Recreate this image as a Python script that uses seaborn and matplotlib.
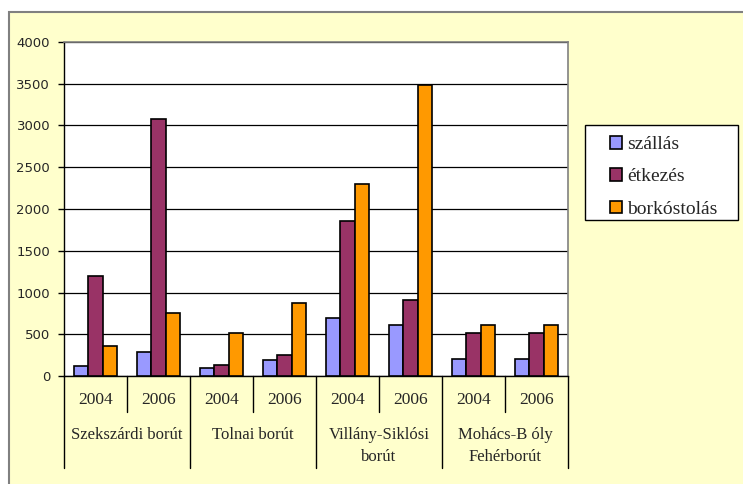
import numpy as np
import pandas as pd
import matplotlib
matplotlib.use("Agg")
import matplotlib.pyplot as plt
from matplotlib.patches import Rectangle
import seaborn as sns

# data
routes = ["Szekszárdi borút", "Tolnai borút", "Villány-Siklósi\nborút", "Mohács-B óly\nFehérborút"]
years = ["2004", "2006"]
series = ["szállás", "étkezés", "borkóstolás"]
szallas = [120, 290, 100, 190, 700, 610, 200, 200]
etkezes = [1200, 3080, 130, 250, 1860, 910, 510, 510]
borkostolas = [360, 750, 510, 880, 2300, 3480, 610, 610]
colors = ["#9999FF", "#993366", "#FF9900"]

sns.set_theme(style="white")
plt.rcParams["font.family"] = ["Liberation Serif", "DejaVu Serif"]

W, H = 743, 484
slots = [f"{r}|{y}" for r in routes for y in years]
df = pd.DataFrame({
    "slot": slots * 3,
    "series": np.repeat(series, len(slots)),
    "value": szallas + etkezes + borkostolas,
})

fig = plt.figure(figsize=(W / 100, H / 100), dpi=100, facecolor="white")
# chart area background with border
fig.patches.append(Rectangle((9 / W, -0.01), 1.0, 1 - 12 / H + 0.01, transform=fig.transFigure,
                             facecolor="#FFFFCC", edgecolor="#808080", linewidth=1.5, zorder=-5))
# legend box
fig.patches.append(Rectangle((585 / W, 1 - 220 / H), 153 / W, 95 / H, transform=fig.transFigure,
                             facecolor="white", edgecolor="black", linewidth=1, zorder=-4))

ax = fig.add_axes([64 / W, 1 - 376 / H, 504 / W, 334 / H])
ax.set_zorder(2)
ax.set_facecolor("white")
sns.barplot(data=df, x="slot", y="value", hue="series", order=slots, hue_order=series,
            palette=colors, saturation=1, width=0.667, edgecolor="black", linewidth=1.2, ax=ax,
            legend=True, zorder=3)

ax.set_ylim(0, 4000)
ax.set_xlim(-0.5, len(slots) - 0.5)
ax.set_yticks(range(0, 4001, 500))
ax.tick_params(axis="y", which="both", left=True, length=4.5, width=1, color="black",
               labelsize=9.5, pad=5.5)
for lab in ax.get_yticklabels():
    lab.set_family("DejaVu Sans")
ax.set_xticks([])
ax.set_xlabel("")
ax.set_ylabel("")
ax.yaxis.grid(True, color="black", linewidth=0.9)
ax.set_axisbelow(True)
for s in ["top", "right"]:
    ax.spines[s].set_color("#808080")
    ax.spines[s].set_linewidth(1.2)
ax.spines["left"].set_color("black")
ax.spines["bottom"].set_color("black")
ax.spines["left"].set_linewidth(1)
ax.spines["bottom"].set_linewidth(1)

# multi-level category axis
trans = ax.get_xaxis_transform()
def ypx(p):
    return (376 - p) / 334

for i, s in enumerate(slots):
    ax.text(i, ypx(400), s.split("|")[1], transform=trans, ha="center", va="center", fontsize=12.5)
for b in np.arange(-0.5, len(slots), 1.0):
    low = ypx(468) if (b + 0.5) % 2 == 0 else ypx(412)
    ax.plot([b, b], [0, low], transform=trans, color="black", linewidth=1, clip_on=False)
for g, r in enumerate(routes):
    for k, line in enumerate(r.split("\n")):
        ax.text(2 * g + 0.5, ypx(435 + 22 * k), line, transform=trans, ha="center", va="center",
                fontsize=12)

handles, labels = ax.get_legend_handles_labels()
ax.get_legend().remove()
fig.legend(handles, labels, loc="upper left", bbox_to_anchor=(610 / W, 1 - 136 / H),
           frameon=False, fontsize=14,
           handlelength=0.62, handleheight=0.62, handletextpad=0.25, labelspacing=0.78,
           borderpad=0, borderaxespad=0)

fig.savefig("out.png", dpi=100, facecolor="white")
